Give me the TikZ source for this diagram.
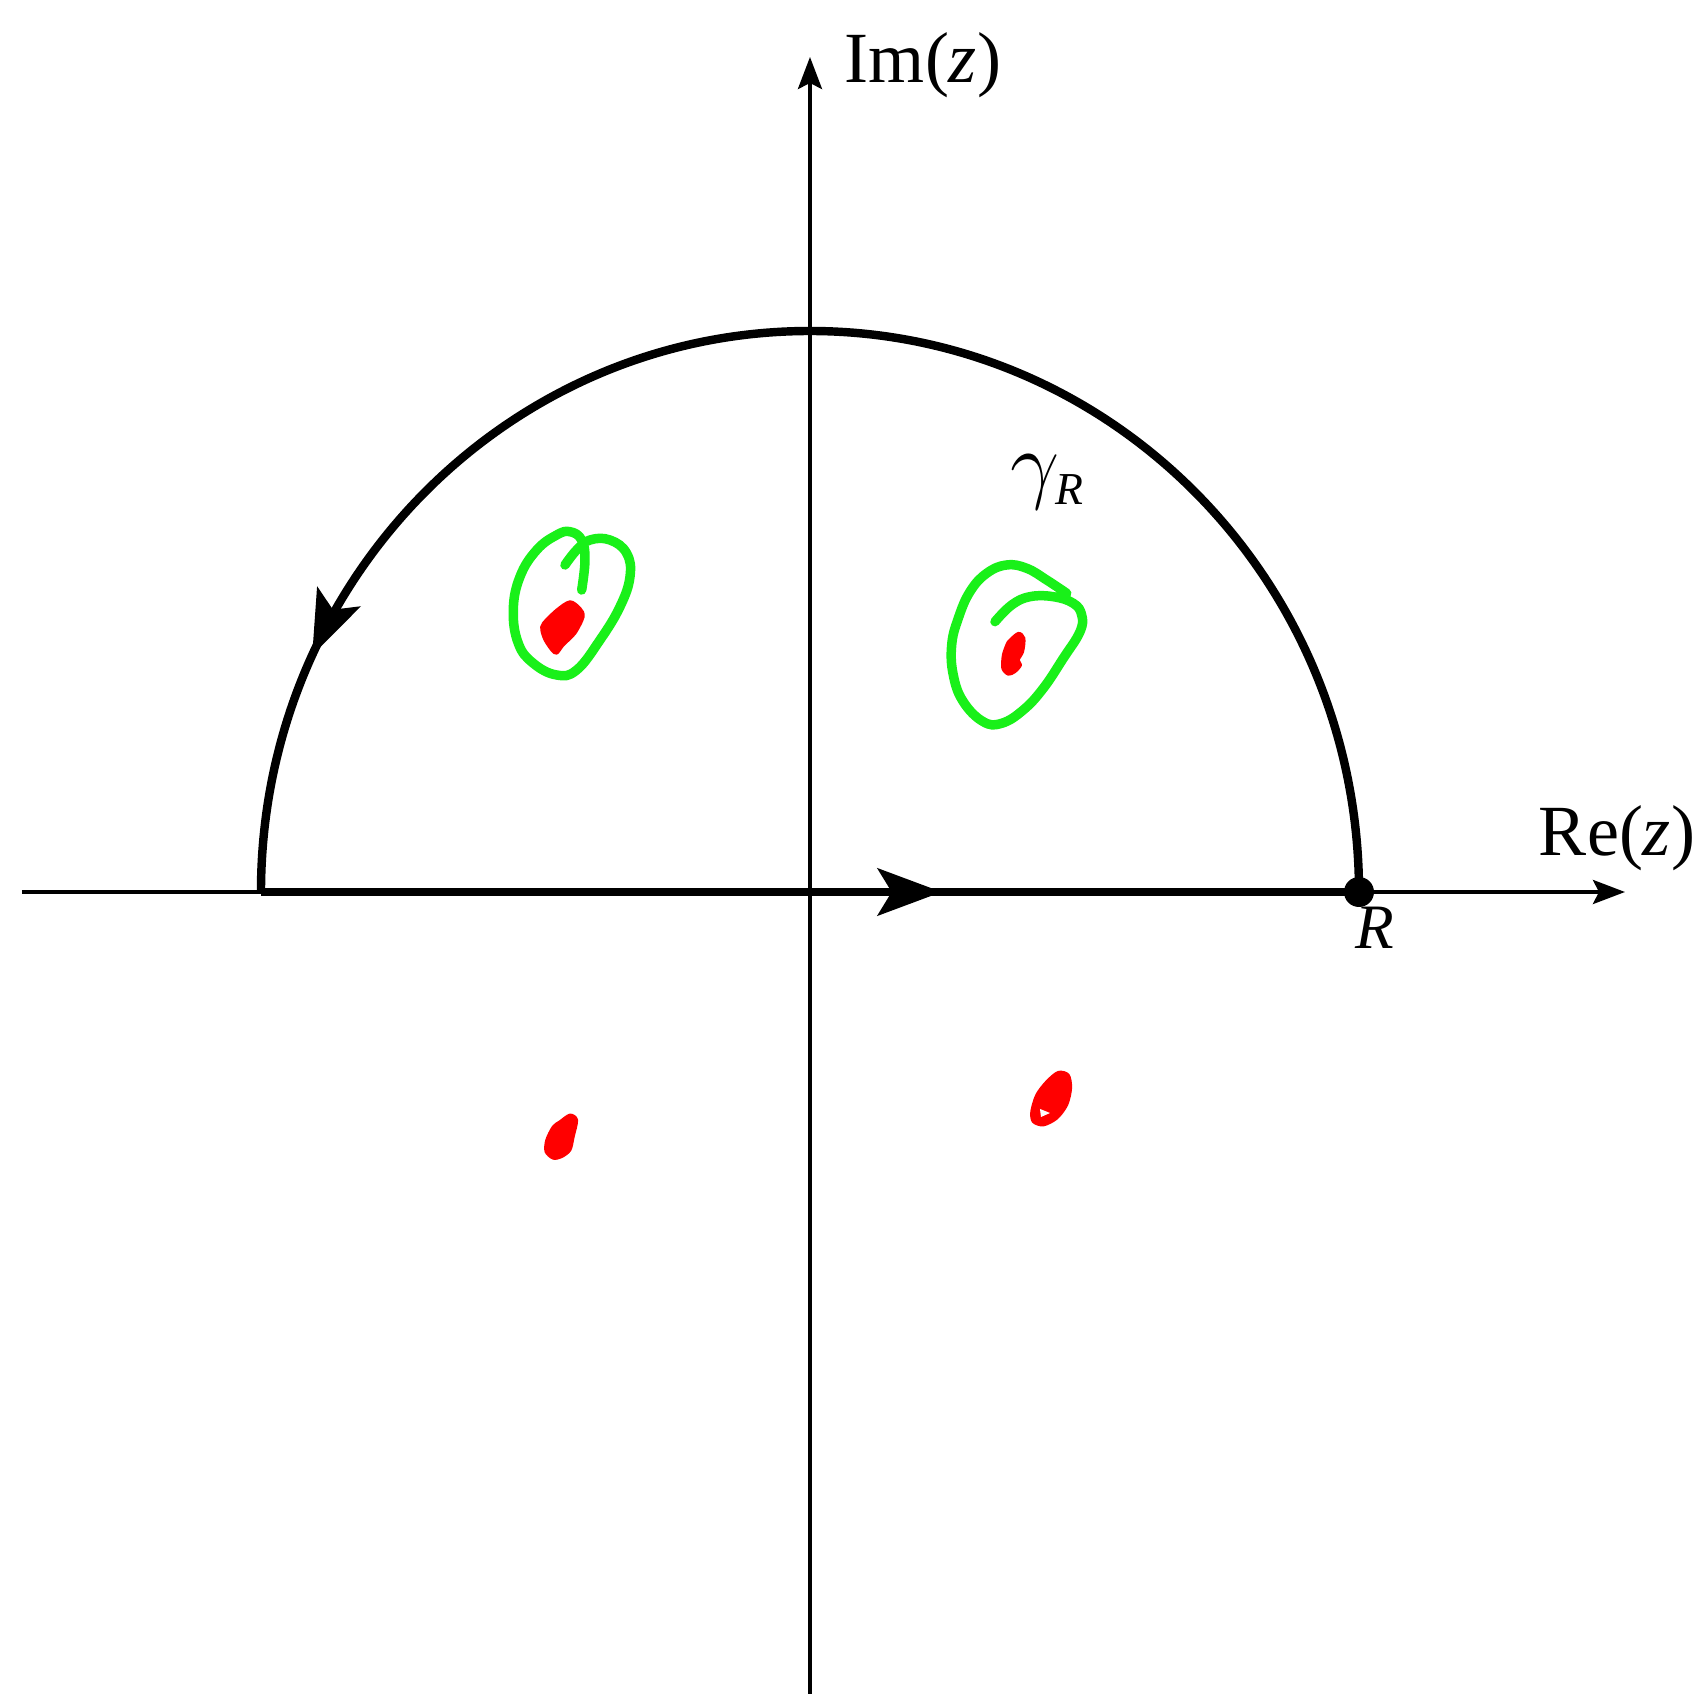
\documentclass[tikz,border=0pt]{standalone}
\usepackage{fontspec}
\setmainfont{Liberation Serif}
\usetikzlibrary{arrows.meta,decorations.markings}
\definecolor{penGreen}{RGB}{25,240,25}
\definecolor{penRed}{RGB}{255,0,0}
\tikzset{
  axis/.style={line width=1.1pt,draw=black,-{Stealth[length=0.32cm,width=0.24cm,inset=0.06cm]}},
  contour/.style={line width=2.4pt,draw=black},
  flowat/.style={postaction={decorate},decoration={markings,
      mark=at position #1 with {\arrow{Stealth[length=0.64cm,width=0.47cm,inset=0.14cm]}}}},
  scribble/.style={draw=penGreen,line width=2.7pt,line cap=round,line join=round},
  blob/.style={fill=penRed,draw=penRed,line width=0.8pt,line join=round},
  lbl/.style={font=\fontsize{20.5}{24}\selectfont,inner sep=0pt}
}
\begin{document}
\begin{tikzpicture}[x=1cm,y=1cm]
\useasboundingbox (-8.10,-8.02) rectangle (8.92,8.92);

% Axes
\coordinate (O) at (0,0);
\coordinate (xs) at (-7.88,0);
\coordinate (xe) at (8.15,0);
\coordinate (ys) at (0,-8.02);
\coordinate (ye) at (0,8.35);
\draw[axis] (xs) -- (xe);
\draw[axis] (ys) -- (ye);
\node[lbl] (imlab) at (1.13,8.27) {Im(\textit{z})};
\node[lbl] (relab) at (8.07,0.54) {Re(\textit{z})};

% Contour
\coordinate (L) at (-5.49,0);
\coordinate (R) at (5.49,0);
\draw[contour,flowat=0.62] (L) -- (R);
\draw[contour,flowat=0.86] (R) arc[start angle=0,end angle=180,x radius=5.49,y radius=5.61];
\fill (R) circle (0.15);
\node[font=\fontsize{18}{20}\selectfont\itshape,inner sep=0pt] (rlab) at (5.65,-0.36) {R};
\node[inner sep=0pt] (gam) at (2.37,4.10)
  {\fontsize{25}{28}\selectfont$\gamma$\kern-0.05em\raisebox{-0.3ex}{\fontsize{13}{14}\selectfont\textit{R}}};

% Poles (upper half)
\draw[blob] plot[smooth cycle] coordinates {(-2.667,2.687) (-2.533,2.82) (-2.40,2.903) (-2.30,2.837)
  (-2.267,2.753) (-2.35,2.587) (-2.467,2.47) (-2.533,2.387) (-2.583,2.42) (-2.65,2.52) (-2.683,2.62)};
\draw[blob] plot[smooth cycle] coordinates {(1.983,2.503) (2.083,2.587) (2.14,2.537) (2.127,2.403)
  (2.083,2.32) (2.107,2.27) (2.05,2.203) (1.983,2.177) (1.927,2.237) (1.933,2.37) (1.967,2.47)};

% Circled by hand
\draw[scribble] plot[smooth,tension=0.7] coordinates {(-2.283,3.02) (-2.25,3.32) (-2.283,3.52) (-2.40,3.603)
  (-2.533,3.57) (-2.733,3.42) (-2.90,3.153) (-2.967,2.82) (-2.917,2.487) (-2.767,2.287) (-2.533,2.17)
  (-2.333,2.22) (-2.10,2.52) (-1.90,2.853) (-1.80,3.153) (-1.833,3.387) (-2.00,3.52) (-2.20,3.52)
  (-2.333,3.42) (-2.45,3.27)};
\draw[scribble] plot[smooth,tension=0.7] coordinates {(2.567,2.987) (2.367,3.12) (2.167,3.237) (1.967,3.27)
  (1.767,3.187) (1.60,3.003) (1.483,2.737) (1.417,2.47) (1.433,2.17) (1.533,1.903) (1.733,1.703)
  (1.917,1.687) (2.133,1.82) (2.333,2.037) (2.533,2.337) (2.70,2.603) (2.717,2.77) (2.633,2.887)
  (2.433,2.953) (2.20,2.953) (2.017,2.87) (1.85,2.703)};

% Poles (lower half)
\draw[blob] plot[smooth cycle] coordinates {(-2.633,-2.48) (-2.567,-2.347) (-2.50,-2.297) (-2.40,-2.23)
  (-2.333,-2.28) (-2.367,-2.447) (-2.40,-2.58) (-2.483,-2.647) (-2.567,-2.663) (-2.64,-2.597)};
\draw[blob] plot[smooth cycle] coordinates {(2.217,-2.197) (2.267,-2.03) (2.367,-1.897) (2.483,-1.803)
  (2.583,-1.83) (2.607,-1.963) (2.567,-2.13) (2.467,-2.263) (2.333,-2.33) (2.233,-2.297)};
\fill[white] (2.30,-2.17) -- (2.40,-2.21) -- (2.31,-2.25) -- cycle;
\end{tikzpicture}
\end{document}
